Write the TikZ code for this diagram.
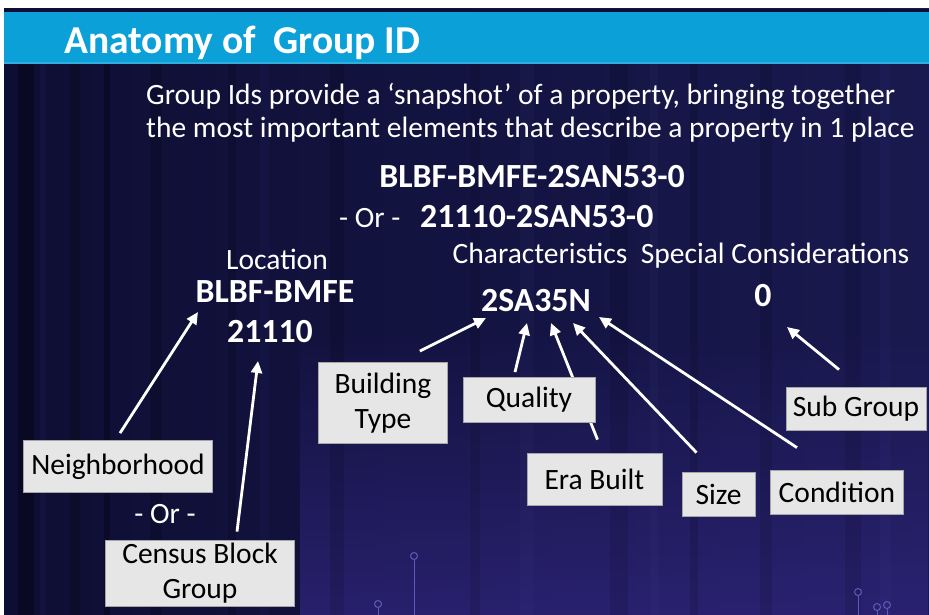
\documentclass[tikz,border=0pt]{standalone}
\usepackage{fontspec}
\setmainfont{Carlito}
\usepackage{tikz}
\usetikzlibrary{arrows.meta,calc,fadings}

\definecolor{BarBlue}{HTML}{0CA0D8}
\definecolor{Navy}{HTML}{19194F}
\definecolor{NavyDark}{HTML}{0E0E34}
\definecolor{Violet}{HTML}{30257C}
\definecolor{BoxGray}{HTML}{E6E6E6}
\definecolor{PinBlue}{HTML}{5C5CB6}

\pgfdeclarelayer{backdrop}
\pgfdeclarelayer{links}
\pgfsetlayers{backdrop,links,main}

\tikzset{
        plaintext/.style={text=white, inner sep=0pt, anchor=base, font=\fontsize{29.5}{31}\selectfont},
        codetext/.style={text=white, inner sep=0pt, anchor=base, font=\bfseries\fontsize{33.8}{35}\selectfont},
        partbox/.style={fill=BoxGray, draw=gray!70, line width=0.8pt, text=black, align=center,
                inner sep=0pt, font=\fontsize{29.5}{34.5}\selectfont},
        pointer/.style={->, white, line width=2.8pt},
}

\begin{document}
\begin{tikzpicture}[x=1pt, y=-1pt, >={Triangle[length=12pt,width=11pt]}]
                  \useasboundingbox (0,0) rectangle (929,615);

                  % slide background
                  \begin{pgfonlayer}{backdrop}
                        \fill[white] (0,0) rectangle (929,615);
                        \shade[left color=NavyDark, right color=Navy] (4,9) rectangle (929,615);
                        \fill[Violet, path fading=north, opacity=.75] (300,330) rectangle (929,615);
                        \foreach \x/\w/\o in {18/16/.30, 70/10/.20, 104/6/.25, 150/12/.15, 228/8/.15, 330/14/.12,
                                    470/10/.10, 610/18/.10, 690/8/.12, 760/12/.10, 845/16/.10}
                              \fill[black, opacity=\o] (\x,64) rectangle ++(\w,551);
                        \foreach \x/\w/\o in {40/6/.06, 260/10/.05, 520/14/.05, 650/8/.06, 880/10/.06}
                              \fill[PinBlue, opacity=\o] (\x,64) rectangle ++(\w,551);
                        \foreach \x/\y in {414/556, 378/604, 858/592, 877/607, 887/605} {
                              \draw[PinBlue, line width=1pt] (\x,\y) circle (3.5);
                              \draw[PinBlue, line width=1pt] (\x,\y+3.5) -- (\x,615);
                        }
                        \fill[NavyDark] (4,9) rectangle (929,12);
                        \fill[BarBlue] (4,12) rectangle (929,64);
                        \fill[BarBlue!70!white, opacity=.5] (4,62) rectangle (929,64);
                  \end{pgfonlayer}

                  \node[anchor=base west, text=white, inner sep=0pt, font=\bfseries\fontsize{39.5}{40}\selectfont]
                        (title) at (64,54) {Anatomy of~~Group ID};
                  \node[plaintext, anchor=base west] (intro1) at (146,105)
                        {Group Ids provide a ‘snapshot’ of a property, bringing together};
                  \node[plaintext, anchor=base west] (intro2) at (146,138)
                        {the most important elements that describe a property in 1 place};

                  % full identifiers
                  \node[codetext] (full) at (532,187) {BLBF-BMFE-2SAN53-0};
                  \node[plaintext, anchor=base west] (or1) at (339,227) {- Or -};
                  \node[codetext, anchor=base west] (short) at (420,227) {21110-2SAN53-0};

                  % the three parts
                  \node[plaintext] (loc) at (277,269) {Location};
                  \node[codetext] (bmfe) at (275,302) {BLBF-BMFE};
                  \node[codetext] (cbg) at (270,342) {21110};
                  \node[plaintext] (chars) at (540,263) {Characteristics};
                  \node[codetext] (code) at (536,311) {2SA35N};
                  \node[plaintext] (special) at (775,263) {Special Considerations};
                  \node[codetext] (zero) at (763,306) {0};

                  % labels
                  \node[partbox, minimum width=189, minimum height=52] (nbh) at (118,466.5) {Neighborhood};
                  \node[plaintext] (or2) at (165,523) {- Or -};
                  \node[partbox, minimum width=189, minimum height=66] (census) at (200,573) {Census Block\\Group};
                  \node[partbox, minimum width=129, minimum height=81] (btype) at (383,403) {Building\\Type};
                  \node[partbox, minimum width=132, minimum height=45] (quality) at (529,400) {Quality};
                  \node[partbox, minimum width=135, minimum height=52] (era) at (594.5,479) {Era Built};
                  \node[partbox, minimum width=73, minimum height=44] (size) at (718.5,494) {Size};
                  \node[partbox, minimum width=133, minimum height=44] (cond) at (837,492) {Condition};
                  \node[partbox, minimum width=140, minimum height=43] (subgrp) at (856,408.5) {Sub Group};

                  % arrow tips
                  \coordinate (nbh-tip) at (198,312);
                  \coordinate (census-tip) at (258,361);
                  \coordinate (btype-tip) at (486,318);
                  \coordinate (quality-tip) at (527,323);
                  \coordinate (era-tip) at (551,323);
                  \coordinate (size-tip) at (573,323);
                  \coordinate (cond-tip) at (599,317);
                  \coordinate (subgrp-tip) at (787,327);

                  \begin{pgfonlayer}{links}
                        \draw[pointer] ($(nbh.north)+(2,-7)$) -- (nbh-tip);
                        \draw[pointer] ($(census.north)+(37,-8)$) -- (census-tip);
                        \draw[pointer] ($(btype.north east)+(-28,-11)$) -- (btype-tip);
                        \draw[pointer] ($(quality.north)+(-14,-5)$) -- (quality-tip);
                        \draw[pointer] ($(era.north)+(3,-13)$) -- (era-tip);
                        \draw[pointer] ($(size.north)+(-22,-19)$) -- (size-tip);
                        \draw[pointer] ($(cond.north)+(-40,-22)$) -- (cond-tip);
                        \draw[pointer] ($(subgrp.north)+(-17,-17)$) -- (subgrp-tip);
                  \end{pgfonlayer}
\end{tikzpicture}
\end{document}
